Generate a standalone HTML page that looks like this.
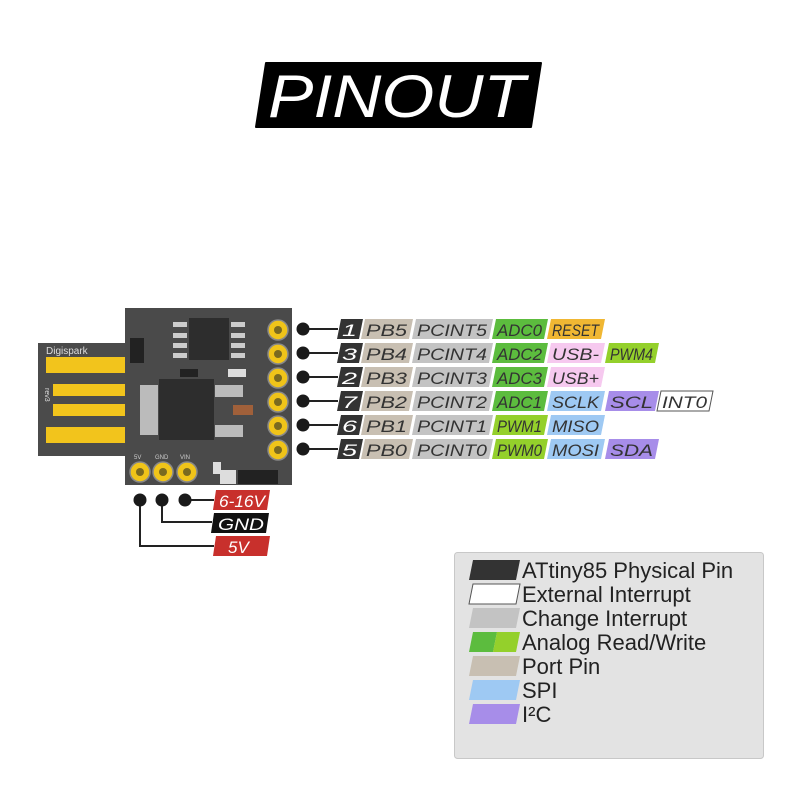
<!DOCTYPE html>
<html><head><style>body{margin:0;background:#fff}svg{display:block}text{font-family:"Liberation Sans",sans-serif}</style></head>
<body>
<svg width="800" height="800" viewBox="0 0 800 800" xmlns="http://www.w3.org/2000/svg">
<polygon points="266,63 541,63 531,127 256,127" fill="#000" stroke="#000" stroke-width="2" stroke-linejoin="round"/>
<text x="268" y="117" font-size="60" font-style="italic" fill="#fff" textLength="257" lengthAdjust="spacingAndGlyphs">PINOUT</text>

<rect x="38" y="343" width="90" height="113" fill="#4b4b4b"/>
<text x="46" y="354" font-size="10" fill="#ddd">Digispark</text>
<rect x="46" y="357" width="80" height="16" fill="#f2c41c"/>
<rect x="53" y="384" width="73" height="12" fill="#f2c41c"/>
<rect x="53" y="404" width="73" height="12" fill="#f2c41c"/>
<rect x="46" y="427" width="80" height="16" fill="#f2c41c"/>
<text x="0" y="0" font-size="7" fill="#ddd" transform="translate(45,388) rotate(90)">rev3</text>

<rect x="125" y="308" width="167" height="177" fill="#4a4a4a"/>
<rect x="130" y="338" width="14" height="25" fill="#222"/>
<rect x="189" y="318" width="40" height="42" fill="#2d2d2d"/>
<g fill="#ccc"><rect x="173" y="322" width="14" height="5"/><rect x="173" y="333" width="14" height="5"/><rect x="173" y="343" width="14" height="5"/><rect x="173" y="353" width="14" height="5"/>
<rect x="231" y="322" width="14" height="5"/><rect x="231" y="333" width="14" height="5"/><rect x="231" y="343" width="14" height="5"/><rect x="231" y="353" width="14" height="5"/></g>
<rect x="159" y="379" width="55" height="61" fill="#2d2d2d"/>
<rect x="140" y="385" width="18" height="50" fill="#bbb"/>
<rect x="215" y="385" width="28" height="12" fill="#bbb"/>
<rect x="215" y="425" width="28" height="12" fill="#bbb"/>
<rect x="233" y="405" width="20" height="10" fill="#a0603a"/>
<rect x="228" y="369" width="18" height="8" fill="#ddd"/>
<rect x="180" y="369" width="18" height="8" fill="#222"/>
<rect x="238" y="470" width="40" height="14" fill="#222"/>
<rect x="220" y="470" width="16" height="14" fill="#ddd"/>
<rect x="213" y="462" width="8" height="12" fill="#ddd"/>
<g fill="#f0c419" stroke="#888" stroke-width="1.5">
<circle cx="278" cy="330" r="10"/><circle cx="278" cy="354" r="10"/><circle cx="278" cy="378" r="10"/><circle cx="278" cy="402" r="10"/><circle cx="278" cy="426" r="10"/><circle cx="278" cy="450" r="10"/>
<circle cx="140" cy="472" r="10"/><circle cx="163" cy="472" r="10"/><circle cx="187" cy="472" r="10"/></g>
<g fill="#7a6a20"><circle cx="278" cy="330" r="4"/><circle cx="278" cy="354" r="4"/><circle cx="278" cy="378" r="4"/><circle cx="278" cy="402" r="4"/><circle cx="278" cy="426" r="4"/><circle cx="278" cy="450" r="4"/>
<circle cx="140" cy="472" r="4"/><circle cx="163" cy="472" r="4"/><circle cx="187" cy="472" r="4"/></g>
<g font-size="6" fill="#ccc"><text x="134" y="459">5V</text><text x="155" y="459">GND</text><text x="180" y="459">VIN</text></g>

<g stroke="#222" stroke-width="2" fill="none">
<path d="M302 329H338M302 353H338M302 377H338M302 401H338M302 425H338M302 449H338"/>
<path d="M185 500H214M162 500V522H212M140 500V546H214"/>
</g>
<g fill="#1a1a1a"><circle cx="303" cy="329" r="6.5"/><circle cx="303" cy="353" r="6.5"/><circle cx="303" cy="377" r="6.5"/><circle cx="303" cy="401" r="6.5"/><circle cx="303" cy="425" r="6.5"/><circle cx="303" cy="449" r="6.5"/>
<circle cx="140" cy="500" r="6.5"/><circle cx="162" cy="500" r="6.5"/><circle cx="185" cy="500" r="6.5"/></g>

<defs><style>.l{font-size:17px;font-style:italic;fill:#333}.w{fill:#fff}</style></defs>
<polygon points="216,490 270,490 267,510 213,510" fill="#c8302c"/><text x="219" y="507" class="l w" textLength="46" lengthAdjust="spacingAndGlyphs">6-16V</text>
<polygon points="214,513 269,513 266,533 211,533" fill="#111"/><text x="218" y="530" class="l w" textLength="46" lengthAdjust="spacingAndGlyphs">GND</text>
<polygon points="216,536 270,536 267,556 213,556" fill="#c8302c"/><text x="228" y="553" class="l w">5V</text>

<g id="rows"></g>
</svg>
<script>
const rows=[
 [329,'1',[['PB5','#c8bfb2'],['PCINT5','#c3c3c3'],['ADC0','#5cbc3e'],['RESET','#f0b733']]],
 [353,'3',[['PB4','#c8bfb2'],['PCINT4','#c3c3c3'],['ADC2','#5cbc3e'],['USB-','#f6c9ef'],['PWM4','#94d02b']]],
 [377,'2',[['PB3','#c8bfb2'],['PCINT3','#c3c3c3'],['ADC3','#5cbc3e'],['USB+','#f6c9ef']]],
 [401,'7',[['PB2','#c8bfb2'],['PCINT2','#c3c3c3'],['ADC1','#5cbc3e'],['SCLK','#9ec9f3'],['SCL','#a78de9'],['INT0','#fff']]],
 [425,'6',[['PB1','#c8bfb2'],['PCINT1','#c3c3c3'],['PWM1','#94d02b'],['MISO','#9ec9f3']]],
 [449,'5',[['PB0','#c8bfb2'],['PCINT0','#c3c3c3'],['PWM0','#94d02b'],['MOSI','#9ec9f3'],['SDA','#a78de9']]]];
const cols=[[362,410],[413,490],[493,545],[548,602],[606,656],[658,710]];
let s='';
function box(x1,x2,y,fill,txt,tc,stroke){
 s+=`<polygon points="${x1+3},${y-10} ${x2+3},${y-10} ${x2-1},${y+10} ${x1-1},${y+10}" fill="${fill}" ${stroke?'stroke="#555" stroke-width="1"':''}/>`;
 s+=`<text x="${x1+4}" y="${y+7}" class="l" style="fill:${tc}" textLength="${x2-x1-7}" lengthAdjust="spacingAndGlyphs">${txt}</text>`;
}
rows.forEach(r=>{
 const y=r[0];
 box(338,360,y,'#333',r[1],'#fff');
 r[2].forEach((c,i)=>box(cols[i][0],cols[i][1],y,c[1],c[0],'#333',c[0]=='INT0'));
});
document.getElementById('rows').innerHTML=s;
</script>
<svg width="800" height="800" style="position:absolute;left:0;top:0" xmlns="http://www.w3.org/2000/svg">
<rect x="454.5" y="552.5" width="309" height="206" rx="3" fill="#e3e3e3" stroke="#c8c8c8"/>
<g font-size="22" fill="#222" font-family="Liberation Sans, sans-serif">
<polygon points="473,560 520,560 516,580 469,580" fill="#333"/><text x="522" y="578">ATtiny85 Physical Pin</text>
<polygon points="473,584 520,584 516,604 469,604" fill="#fff" stroke="#555"/><text x="522" y="602">External Interrupt</text>
<polygon points="473,608 520,608 516,628 469,628" fill="#c3c3c3"/><text x="522" y="626">Change Interrupt</text>
<polygon points="473,632 497,632 493,652 469,652" fill="#5cbc3e"/><polygon points="497,632 520,632 516,652 493,652" fill="#94d02b"/><text x="522" y="650">Analog Read/Write</text>
<polygon points="473,656 520,656 516,676 469,676" fill="#c8bfb2"/><text x="522" y="674">Port Pin</text>
<polygon points="473,680 520,680 516,700 469,700" fill="#9ec9f3"/><text x="522" y="698">SPI</text>
<polygon points="473,704 520,704 516,724 469,724" fill="#a78de9"/><text x="522" y="722">I²C</text>
</g></svg>
</body></html>
